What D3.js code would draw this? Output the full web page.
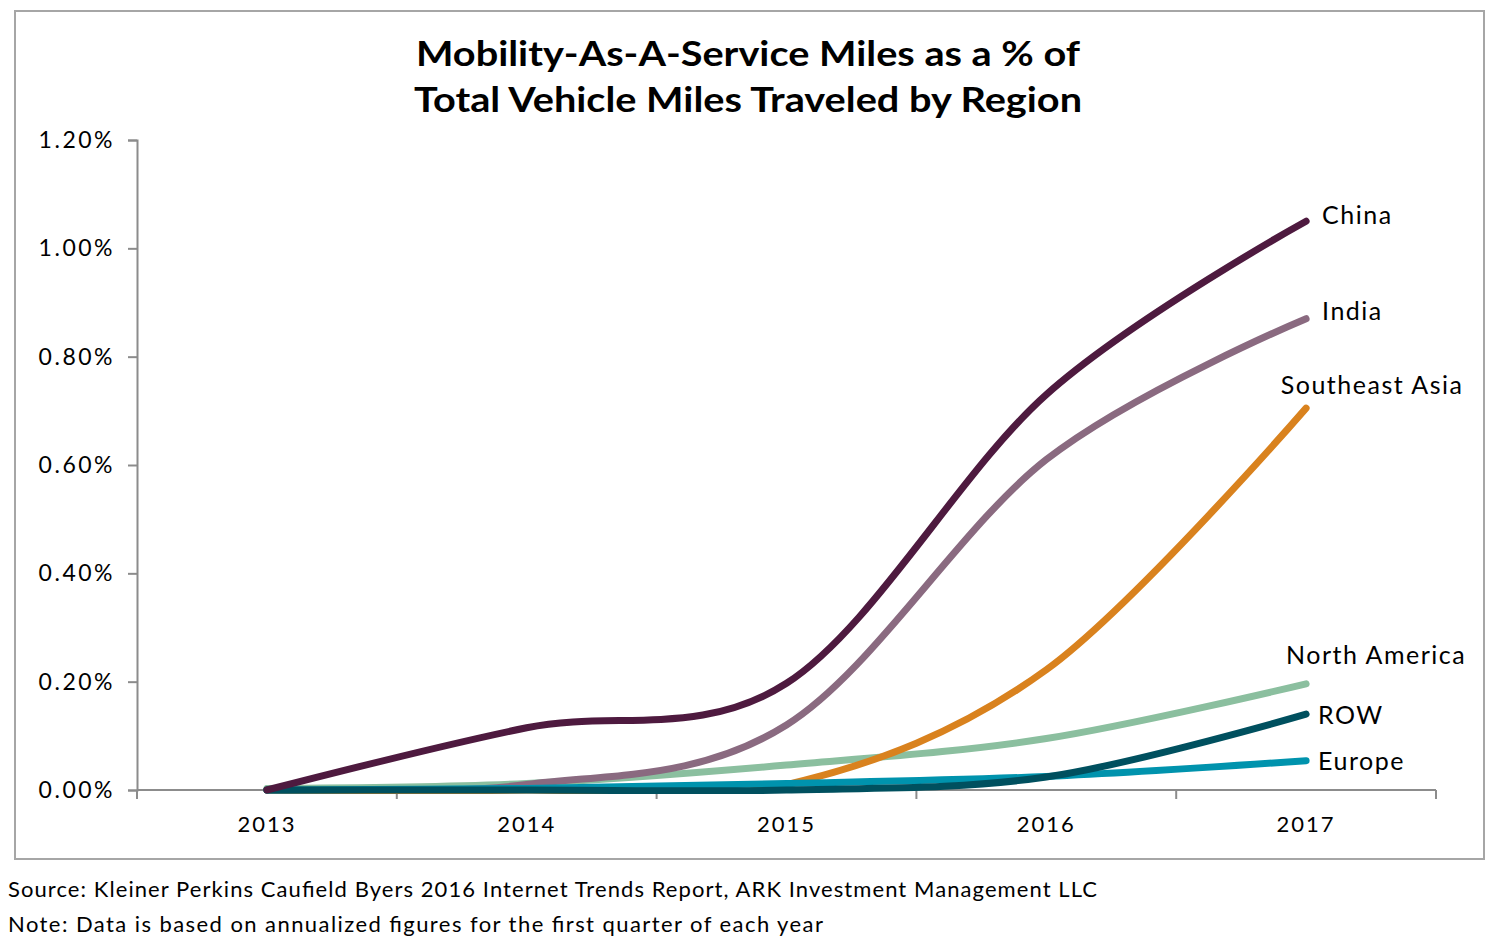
<!DOCTYPE html>
<html>
<head>
<meta charset="utf-8">
<script src="https://cdn.jsdelivr.net/npm/d3@7"></script>
<style>
  body { margin: 0; background: #fff; }
  text { font-family: Lato, "Open Sans", sans-serif; fill: #000; }
</style>
</head>
<body>
<svg id="chart"></svg>
<script>
const years = ["2013", "2014", "2015", "2016", "2017"];
const yTicks = [0, 0.2, 0.4, 0.6, 0.8, 1.0, 1.2];

// % of total vehicle miles
const china        = [0, 0.115, 0.197, 0.73, 1.05];
const india        = [0, 0.01, 0.12, 0.61, 0.87];
const southeastAsia = [0, 0, 0.01, 0.222, 0.705];
const northAmerica = [0.003, 0.012, 0.046, 0.095, 0.196];
const europe       = [0, 0.003, 0.012, 0.025, 0.054];
const row          = [0, 0, 0, 0.024, 0.14];

// drawn bottom to top
const series = [
  { name: "North America", values: northAmerica, color: "#8bbf9f" },
  { name: "India", values: india, color: "#8a6a80" },
  { name: "Southeast Asia", values: southeastAsia, color: "#d9821e" },
  { name: "Europe", values: europe, color: "#0093ad" },
  { name: "ROW", values: row, color: "#00505f" },
  { name: "China", values: china, color: "#4e1a3f" }
];

// label offsets from the line end
const labelPos = {
  "China": { dx: 16, dy: 3, anchor: "start" },
  "India": { dx: 16, dy: 1, anchor: "start" },
  "Southeast Asia": { dx: 66, dy: -14, anchor: "middle" },
  "North America": { dx: 70, dy: -20, anchor: "middle" },
  "ROW": { dx: 12, dy: 10, anchor: "start" },
  "Europe": { dx: 12, dy: 9, anchor: "start" }
};

const W = 1502, H = 940;
const margin = { top: 140, right: 66, bottom: 150, left: 137 },
      width = W - margin.left - margin.right,
      height = H - margin.top - margin.bottom;

const svg = d3.select("#chart").attr("width", W).attr("height", H);

svg.append("rect")
   .attr("x", 15).attr("y", 11)
   .attr("width", 1469).attr("height", 848)
   .attr("fill", "none")
   .attr("stroke", "#a6a6a6")
   .attr("stroke-width", 2);

const titleLines = ["Mobility-As-A-Service Miles as a % of", "Total Vehicle Miles Traveled by Region"];
svg.append("text")
   .attr("x", 748).attr("y", 66)
   .attr("text-anchor", "middle")
   .style("font-size", "34px").style("font-weight", "bold")
   .attr("textLength", 664).attr("lengthAdjust", "spacingAndGlyphs")
   .text(titleLines[0]);
svg.append("text")
   .attr("x", 748).attr("y", 112)
   .attr("text-anchor", "middle")
   .style("font-size", "34px").style("font-weight", "bold")
   .attr("textLength", 668).attr("lengthAdjust", "spacingAndGlyphs")
   .text(titleLines[1]);

const g = svg.append("g").attr("transform", `translate(${margin.left},${margin.top})`);

const xBand = d3.scaleBand().domain(years).range([0, width]);
const x = d => xBand(d) + xBand.bandwidth() / 2;
const y = d3.scaleLinear().domain([0, 1.2]).range([height, 0]);

// plot area clip, like the spreadsheet does
g.append("clipPath").attr("id", "plot")
  .append("rect")
  .attr("x", -10).attr("y", -10)
  .attr("width", width + 20).attr("height", height + 14);

// y axis
const yAxis = g.append("g")
  .call(d3.axisLeft(y).tickValues(yTicks).tickSize(9).tickPadding(13)
          .tickFormat(d => d.toFixed(2) + "%"));
yAxis.selectAll("text").style("font-size", "23px").style("letter-spacing", "2.5px");

// x axis: ticks on the band boundaries
const xAxis = g.append("g").attr("transform", `translate(0,${height})`);
xAxis.append("line")
  .attr("x1", 0).attr("x2", width)
  .attr("stroke", "#8c8c8c").attr("stroke-width", 2);
xAxis.selectAll(".tk")
  .data(years.concat(["end"]))
  .enter().append("line")
  .attr("x1", (d, i) => i * xBand.bandwidth())
  .attr("x2", (d, i) => i * xBand.bandwidth())
  .attr("y1", 0).attr("y2", 9)
  .attr("stroke", "#8c8c8c").attr("stroke-width", 2);
xAxis.selectAll(".lbl")
  .data(years)
  .enter().append("text")
  .attr("x", d => x(d))
  .attr("y", 42)
  .attr("text-anchor", "middle")
  .style("font-size", "22px").style("letter-spacing", "2px")
  .text(d => d);

yAxis.select(".domain").attr("stroke", "#8c8c8c").attr("stroke-width", 2);
yAxis.selectAll(".tick line").attr("stroke", "#8c8c8c").attr("stroke-width", 2);

const line = d3.line()
  .x((d, i) => x(years[i]))
  .y(d => y(d))
  .curve(d3.curveCardinal.tension(0));

g.append("g").attr("clip-path", "url(#plot)")
  .selectAll(".series")
  .data(series)
  .enter().append("path")
  .attr("d", d => line(d.values))
  .attr("fill", "none")
  .attr("stroke", d => d.color)
  .attr("stroke-width", 7)
  .attr("stroke-linecap", "round")
  .attr("stroke-linejoin", "round");

g.selectAll(".end-label")
  .data(series)
  .enter().append("text")
  .attr("x", d => x(years[years.length - 1]) + labelPos[d.name].dx)
  .attr("y", d => y(d.values[d.values.length - 1]) + labelPos[d.name].dy)
  .attr("text-anchor", d => labelPos[d.name].anchor)
  .style("font-size", "25px")
  .style("letter-spacing", "1.5px")
  .text(d => d.name);

svg.append("text")
   .attr("x", 8).attr("y", 897)
   .style("font-size", "22px")
   .attr("textLength", 1089).attr("lengthAdjust", "spacing")
   .text("Source: Kleiner Perkins Caufield Byers 2016 Internet Trends Report, ARK Investment Management LLC");
svg.append("text")
   .attr("x", 8).attr("y", 932)
   .style("font-size", "22px")
   .attr("textLength", 815).attr("lengthAdjust", "spacing")
   .text("Note: Data is based on annualized figures for the first quarter of each year");
</script>
</body>
</html>
